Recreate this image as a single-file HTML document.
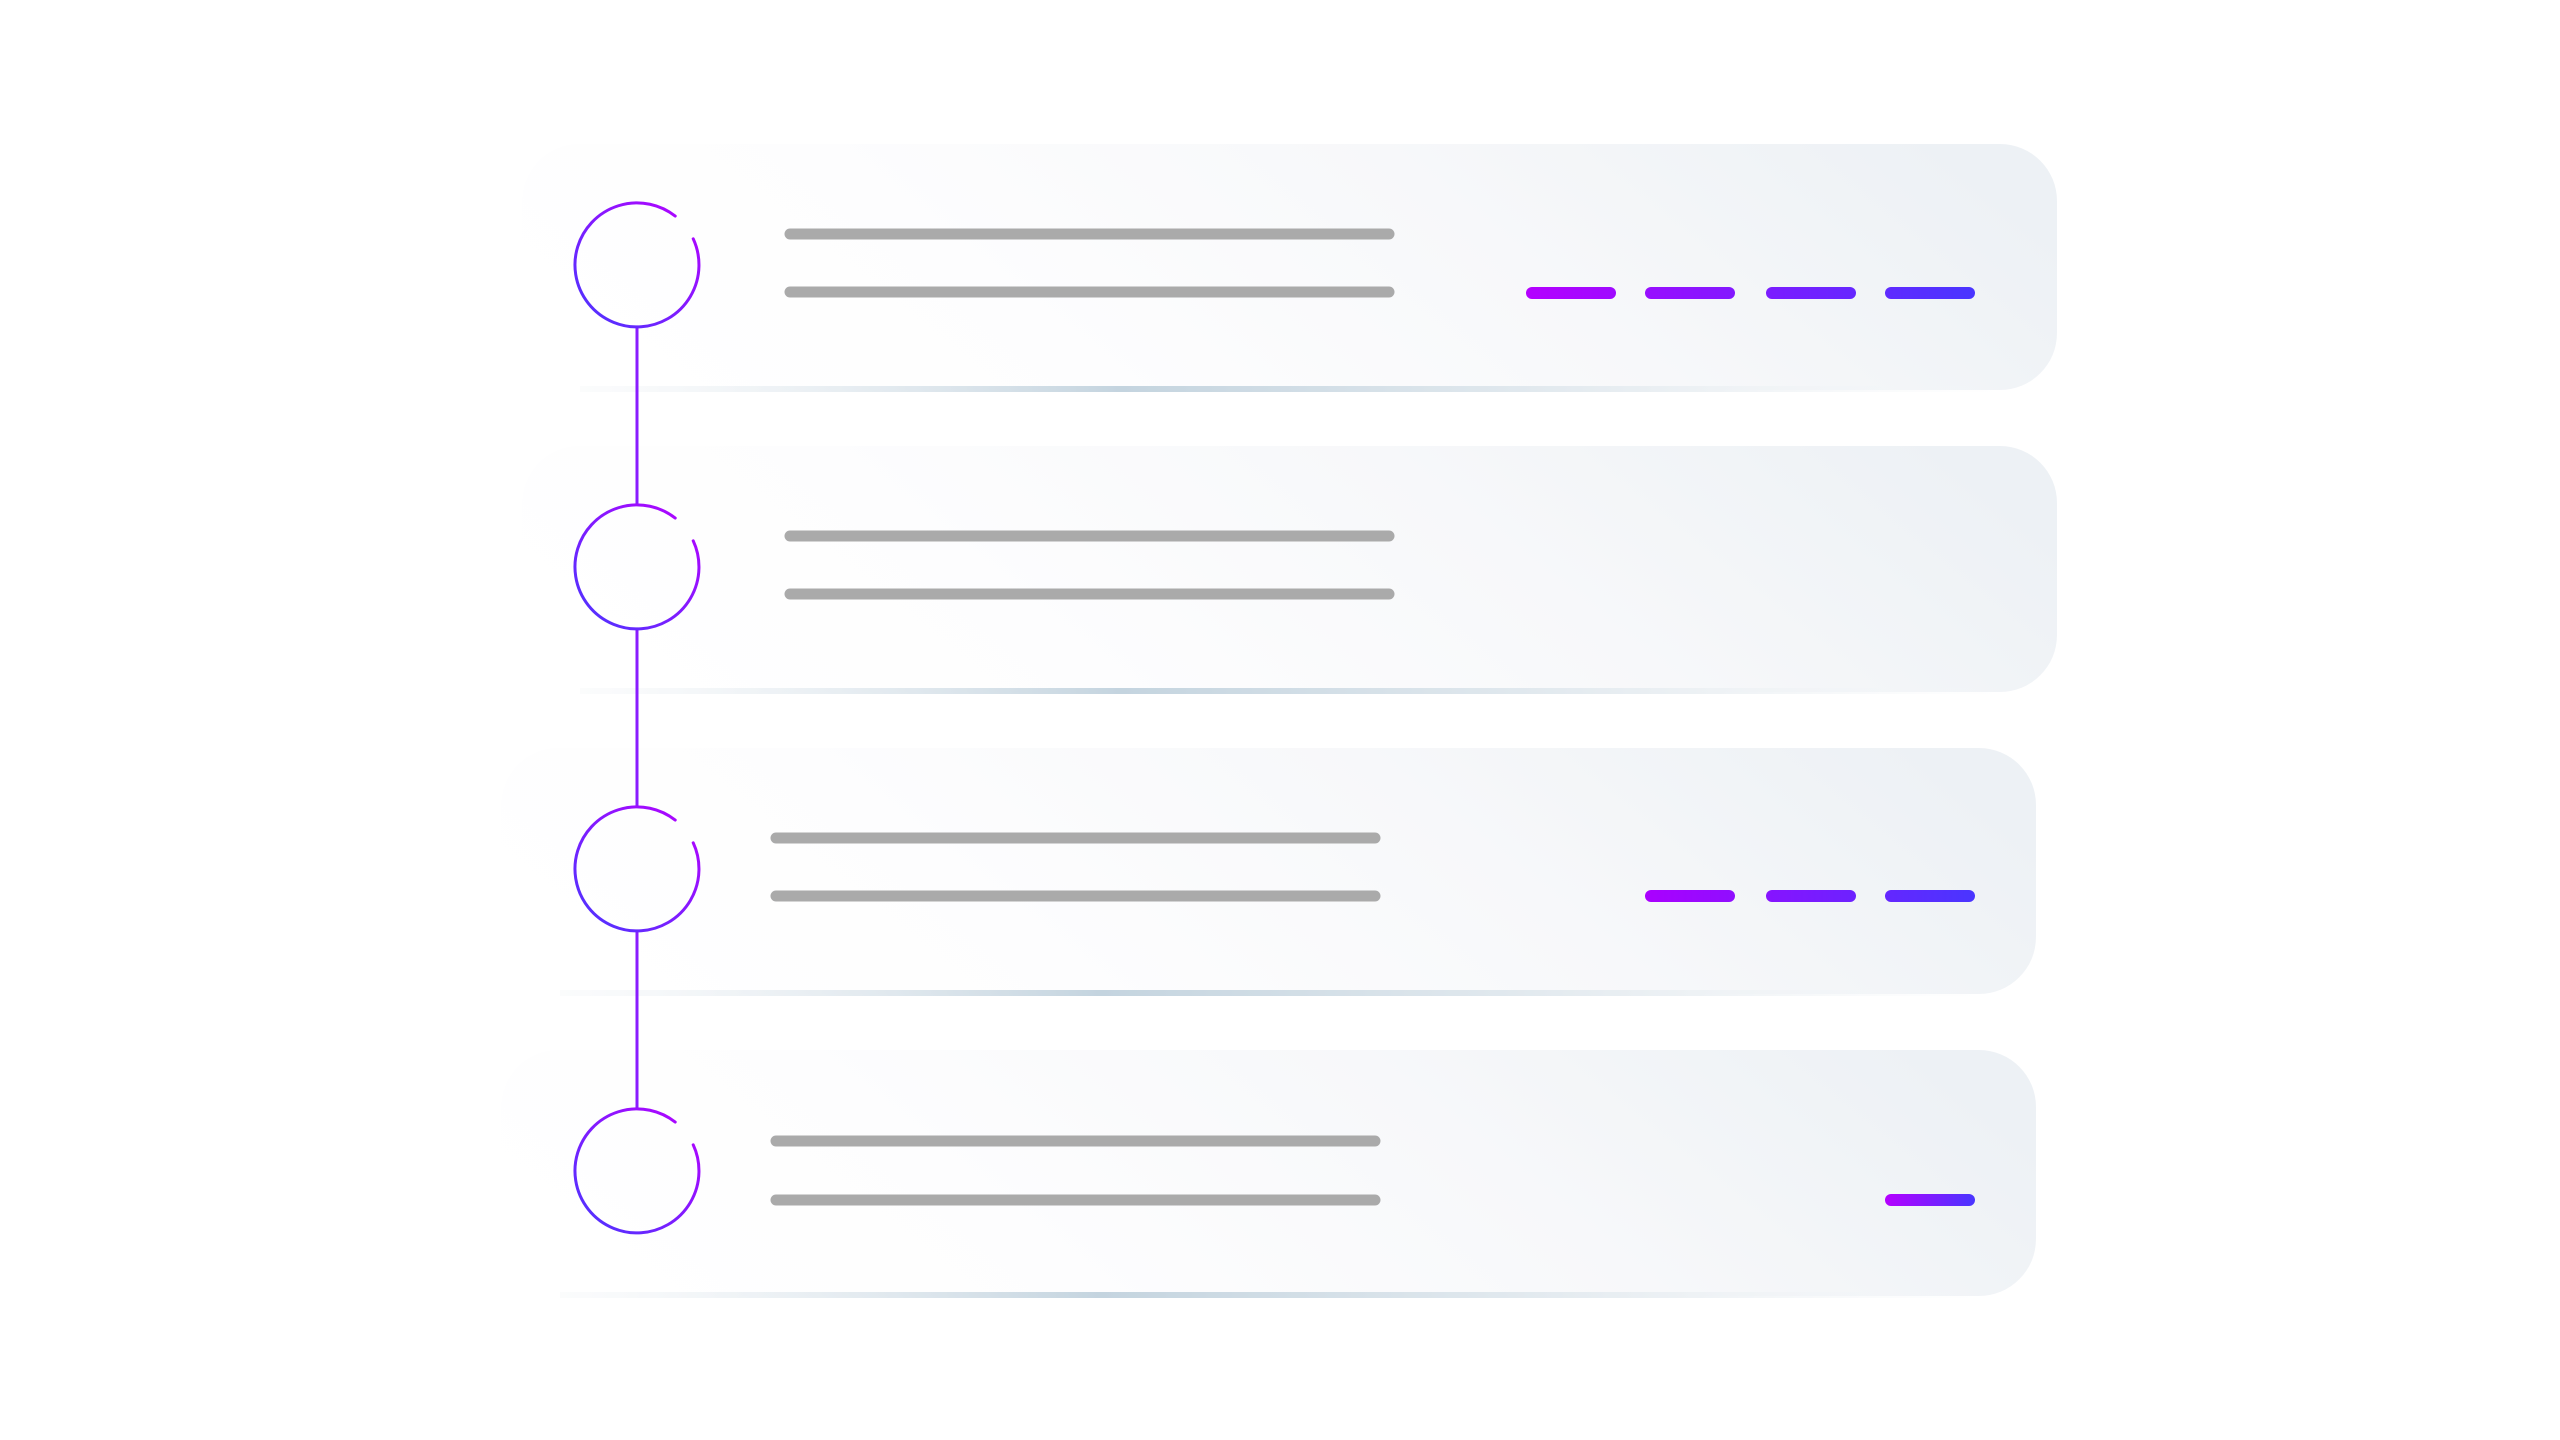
<!DOCTYPE html>
<html><head><meta charset="utf-8"><style>html,body{margin:0;padding:0;background:#fff}svg{display:block}</style></head>
<body>
<svg width="2560" height="1440" viewBox="0 0 2560 1440" xmlns="http://www.w3.org/2000/svg">
<defs>
<linearGradient id="card" x1="0" y1="0.6" x2="1" y2="0.4">
<stop offset="0" stop-color="#ffffff"/><stop offset="0.3" stop-color="#fdfdfe"/><stop offset="0.65" stop-color="#f7f8fa"/><stop offset="1" stop-color="#edf1f5"/>
</linearGradient>
<linearGradient id="edge" x1="0" y1="0" x2="1" y2="0">
<stop offset="0" stop-color="#f5f7f9" stop-opacity="0.4"/><stop offset="0.38" stop-color="#c4d4df"/><stop offset="0.8" stop-color="#eef2f5"/><stop offset="1" stop-color="#f5f7f9" stop-opacity="0"/>
</linearGradient>
<linearGradient id="circ" x1="0" y1="1" x2="1" y2="0">
<stop offset="0" stop-color="#4a35ff"/><stop offset="1" stop-color="#b800ff"/>
</linearGradient>
<linearGradient id="d1" gradientUnits="userSpaceOnUse" x1="1527" y1="0" x2="1974" y2="0"><stop offset="0" stop-color="#b400ff"/><stop offset="1" stop-color="#4a35ff"/></linearGradient>
<linearGradient id="d3" gradientUnits="userSpaceOnUse" x1="1646" y1="0" x2="1974" y2="0"><stop offset="0" stop-color="#aa00ff"/><stop offset="1" stop-color="#4a35ff"/></linearGradient>
<linearGradient id="d4" gradientUnits="userSpaceOnUse" x1="1886" y1="0" x2="1974" y2="0"><stop offset="0" stop-color="#b400ff"/><stop offset="1" stop-color="#4a35ff"/></linearGradient>
</defs>

<g>
<rect x="522" y="144" width="1535" height="246" rx="57" fill="url(#card)"/>
<rect x="580" y="386" width="1420" height="6" fill="url(#edge)"/>
<rect x="522" y="446" width="1535" height="246" rx="57" fill="url(#card)"/>
<rect x="580" y="688" width="1420" height="6" fill="url(#edge)"/>
<rect x="501" y="748" width="1535" height="246" rx="57" fill="url(#card)"/>
<rect x="560" y="990" width="1420" height="6" fill="url(#edge)"/>
<rect x="501" y="1050" width="1535" height="246" rx="57" fill="url(#card)"/>
<rect x="560" y="1292" width="1420" height="6" fill="url(#edge)"/>
</g>

<g stroke="#8a1cff" stroke-width="3">
<line x1="637" y1="327" x2="637" y2="505"/>
<line x1="637" y1="629" x2="637" y2="807"/>
<line x1="637" y1="931" x2="637" y2="1109"/>
</g>

<g fill="none" stroke="url(#circ)" stroke-width="3" stroke-linecap="round">
<path d="M693.2 238.8 A62 62 0 1 1 675.2 216.1"/>
<path d="M693.2 540.8 A62 62 0 1 1 675.2 518.1"/>
<path d="M693.2 842.8 A62 62 0 1 1 675.2 820.1"/>
<path d="M693.2 1144.8 A62 62 0 1 1 675.2 1122.1"/>
</g>

<g stroke="#aaaaaa" stroke-width="11" stroke-linecap="round">
<line x1="790" y1="234" x2="1389" y2="234"/>
<line x1="790" y1="292" x2="1389" y2="292"/>
<line x1="790" y1="536" x2="1389" y2="536"/>
<line x1="790" y1="594" x2="1389" y2="594"/>
<line x1="776" y1="838" x2="1375" y2="838"/>
<line x1="776" y1="896" x2="1375" y2="896"/>
<line x1="776" y1="1141" x2="1375" y2="1141"/>
<line x1="776" y1="1200" x2="1375" y2="1200"/>
</g>

<g stroke-width="12" stroke-linecap="round">
<g stroke="url(#d1)">
<line x1="1532" y1="293" x2="1610" y2="293"/>
<line x1="1651" y1="293" x2="1729" y2="293"/>
<line x1="1772" y1="293" x2="1850" y2="293"/>
<line x1="1891" y1="293" x2="1969" y2="293"/>
</g>
<g stroke="url(#d3)">
<line x1="1651" y1="896" x2="1729" y2="896"/>
<line x1="1772" y1="896" x2="1850" y2="896"/>
<line x1="1891" y1="896" x2="1969" y2="896"/>
</g>
<g stroke="url(#d4)">
<line x1="1891" y1="1200" x2="1969" y2="1200"/>
</g>
</g>
</svg>
</body></html>
